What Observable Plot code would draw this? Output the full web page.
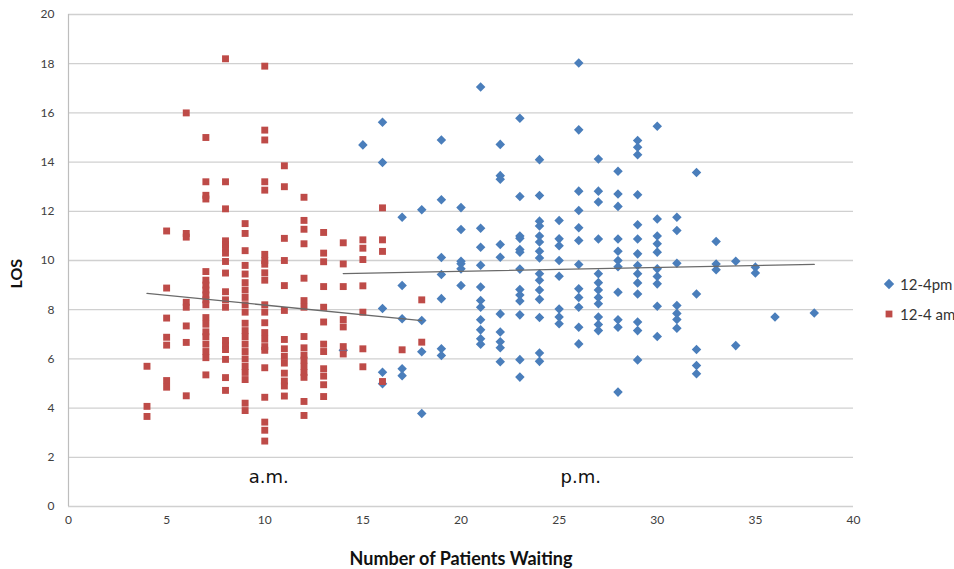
<!DOCTYPE html>
<html>
<head>
<meta charset="utf-8">
<script src="https://cdn.jsdelivr.net/npm/d3@7"></script>
<script src="https://cdn.jsdelivr.net/npm/@observablehq/plot@0.6"></script>
<style>
  html, body { margin: 0; padding: 0; background: #fff; }
  #wrap { position: relative; width: 954px; height: 569px; font-family: Lato, "Liberation Sans", sans-serif; }
  #legend { position: absolute; left: 883px; top: 269px; font-size: 15px; color: #333; line-height: 30px; }
  #legend .row { display: flex; align-items: center; white-space: nowrap; }
  #legend svg { margin-right: 5px; }
</style>
</head>
<body>
<div id="wrap">
  <div id="chart"></div>
  <div id="legend"></div>
</div>
<script>
// ---- Data ----
const seriesNames = ["12-4pm", "12-4 am"];
const seriesColors = ["#4a7ebb", "#be4b48"];

// 12-4 am (red squares): number waiting and LOS values at that x
const amX = [4, 5, 6, 7, 8, 9, 10, 11, 12, 13, 14, 15, 16, 17, 18];
const amLOS = [
  [5.7, 4.07, 3.66],
  [11.2, 8.88, 7.66, 6.88, 6.56, 5.12, 4.85],
  [16.0, 11.1, 10.95, 8.3, 8.1, 7.34, 6.67, 4.5],
  [15.0, 13.2, 12.65, 12.5, 9.55, 9.2, 9.0, 8.8, 8.6, 8.4, 8.2, 7.68, 7.41, 7.1, 6.9, 6.6, 6.3, 6.05, 5.35],
  [18.2, 13.2, 12.1, 10.8, 10.65, 10.5, 10.3, 9.96, 9.49, 8.73, 8.4, 8.1, 6.75, 6.55, 6.38, 5.98, 5.24, 4.72],
  [11.5, 11.1, 10.4, 9.8, 9.45, 9.1, 8.8, 8.5, 8.2, 7.9, 7.45, 7.15, 6.9, 6.6, 6.3, 6.0, 5.7, 5.45, 5.16, 4.2, 3.9],
  [17.9, 15.3, 14.9, 13.2, 12.86, 10.25, 10.0, 9.85, 9.5, 9.2, 8.2, 7.9, 7.47, 7.07, 6.8, 6.5, 6.35, 5.64, 4.44, 3.43, 3.1, 2.66],
  [13.85, 13.0, 10.9, 10.0, 8.98, 7.97, 6.79, 6.41, 6.1, 5.83, 5.42, 5.1, 4.9, 4.49],
  [12.57, 11.63, 11.27, 10.68, 9.28, 8.37, 8.1, 6.91, 6.45, 6.15, 5.95, 5.7, 5.45, 5.25, 4.27, 3.7],
  [11.14, 10.3, 9.95, 8.94, 8.1, 7.5, 6.6, 6.3, 5.6, 5.3, 4.95, 4.47],
  [10.72, 9.86, 8.94, 7.6, 7.3, 6.5, 6.2],
  [10.84, 10.5, 10.04, 8.97, 7.9, 6.41, 5.68],
  [12.14, 10.84, 10.37, 5.08],
  [6.37],
  [8.4, 6.68]
];

// 12-4pm (blue diamonds)
const pmX = [14, 15, 16, 17, 18, 19, 20, 21, 22, 23, 24, 25, 26, 27, 28, 29, 30, 31, 32, 33, 34, 35, 36, 38];
const pmLOS = [
  [6.35],
  [14.7],
  [15.62, 13.98, 8.05, 5.46, 4.99],
  [11.76, 8.98, 7.63, 5.6, 5.32],
  [12.06, 7.56, 6.29, 3.78],
  [14.9, 12.47, 10.12, 9.43, 8.45, 6.41, 6.14],
  [12.15, 11.26, 9.97, 9.87, 9.66, 8.98],
  [17.05, 11.31, 10.54, 9.81, 8.92, 8.37, 8.1, 7.59, 7.18, 6.82, 6.6],
  [14.72, 13.45, 13.3, 10.65, 10.13, 7.83, 7.09, 6.7, 6.45, 5.88],
  [15.78, 12.6, 11.0, 10.9, 10.45, 10.34, 9.65, 8.82, 8.6, 8.35, 7.79, 5.97, 5.26],
  [14.1, 12.64, 11.6, 11.4, 11.0, 10.75, 10.38, 10.1, 9.46, 9.2, 8.8, 8.42, 7.68, 6.24, 5.9],
  [11.63, 10.88, 10.6, 10.0, 9.36, 8.03, 7.7, 7.43],
  [18.03, 15.31, 12.82, 12.03, 11.33, 10.81, 9.84, 8.85, 8.5, 8.1, 7.29, 6.61],
  [14.13, 12.82, 12.38, 10.87, 9.46, 9.1, 8.8, 8.5, 8.24, 7.7, 7.4, 7.15],
  [13.63, 12.7, 12.2, 10.87, 10.38, 10.0, 9.75, 8.71, 7.59, 7.29, 4.65],
  [14.88, 14.6, 14.3, 12.67, 11.45, 10.87, 10.27, 9.8, 9.46, 9.09, 8.64, 7.5, 7.15, 5.96],
  [15.46, 11.69, 11.0, 10.68, 10.34, 9.66, 9.35, 9.05, 8.14, 6.91],
  [11.76, 11.22, 9.89, 8.17, 7.85, 7.6, 7.25],
  [13.58, 8.64, 6.38, 5.73, 5.4],
  [10.77, 9.86, 9.62],
  [9.97, 6.54],
  [9.73, 9.49],
  [7.7],
  [7.87]
];

// Linear trend lines as shown in the reference (end points)
const amTrendX = [4, 18];
const amTrendY = [8.66, 7.56];
const pmTrendX = [14, 38];
const pmTrendY = [9.47, 9.84];

const xTicks = [0, 5, 10, 15, 20, 25, 30, 35, 40];
const yTicks = [0, 2, 4, 6, 8, 10, 12, 14, 16, 18, 20];
const notes = ["a.m.", "p.m."];
const noteX = [10.2, 26.1];
const noteY = [1.2, 1.2];

// ---- Build tables ----
function flatten(xs, lists) {
  const out = [];
  xs.forEach((x, i) => lists[i].forEach(v => out.push({x, y: v})));
  return out;
}
const am = flatten(amX, amLOS);
const pm = flatten(pmX, pmLOS);
const amTrend = amTrendX.map((x, i) => ({x, y: amTrendY[i]}));
const pmTrend = pmTrendX.map((x, i) => ({x, y: pmTrendY[i]}));
const noteData = notes.map((t, i) => ({t, x: noteX[i], y: noteY[i]}));

const chart = Plot.plot({
  width: 954,
  height: 569,
  marginLeft: 68,
  marginRight: 101,
  marginTop: 14,
  marginBottom: 63,
  style: {fontFamily: "Lato, 'Liberation Sans', sans-serif", color: "#404040", background: "#fff"},
  x: {domain: [0, 40]},
  y: {domain: [0, 20]},
  marks: [
    Plot.ruleY(yTicks, {stroke: "#d0d0d0", strokeWidth: 1.3}),
    Plot.ruleX([0], {stroke: "#bdbdbd", strokeWidth: 1.2}),
    Plot.axisY(yTicks, {tickSize: 0, tickPadding: 14, fontSize: 12, label: null}),
    Plot.axisX(xTicks, {tickSize: 0, tickPadding: 9, fontSize: 12, label: null}),
    Plot.dot(pm, {x: "x", y: "y", symbol: "diamond2", r: 4.3, fill: seriesColors[0], stroke: null}),
    Plot.dot(am, {x: "x", y: "y", symbol: "square", r: 3.9, fill: seriesColors[1], stroke: null}),
    Plot.line(amTrend, {x: "x", y: "y", stroke: "#6a6a6a", strokeWidth: 1.3}),
    Plot.line(pmTrend, {x: "x", y: "y", stroke: "#6a6a6a", strokeWidth: 1.3}),
    Plot.text(noteData, {x: "x", y: "y", text: "t", fontSize: 18, fill: "#111", fontFamily: "'DejaVu Sans', Verdana, sans-serif"}),
    Plot.text(["Number of Patients Waiting"], {frameAnchor: "bottom", lineAnchor: "middle", dy: 53, fontSize: 18, fontWeight: "bold", fill: "#111"}),
    Plot.text(["LOS"], {frameAnchor: "left", lineAnchor: "middle", dx: -52, dy: 28, rotate: -90, fontSize: 16, fontWeight: "bold", fill: "#111"})
  ]
});
document.getElementById("chart").appendChild(chart);

// ---- Legend ----
const legend = document.getElementById("legend");
seriesNames.forEach((name, i) => {
  const row = document.createElement("div");
  row.className = "row";
  const shape = i === 0
    ? '<svg width="12" height="12" viewBox="-6 -6 12 12"><path d="M0,-5.2L5.2,0L0,5.2L-5.2,0Z" fill="' + seriesColors[0] + '"/></svg>'
    : '<svg width="12" height="12" viewBox="-6 -6 12 12"><rect x="-3.4" y="-3.4" width="6.8" height="6.8" fill="' + seriesColors[1] + '"/></svg>';
  row.innerHTML = shape + '<span>' + name + '</span>';
  legend.appendChild(row);
});
</script>
</body>
</html>
